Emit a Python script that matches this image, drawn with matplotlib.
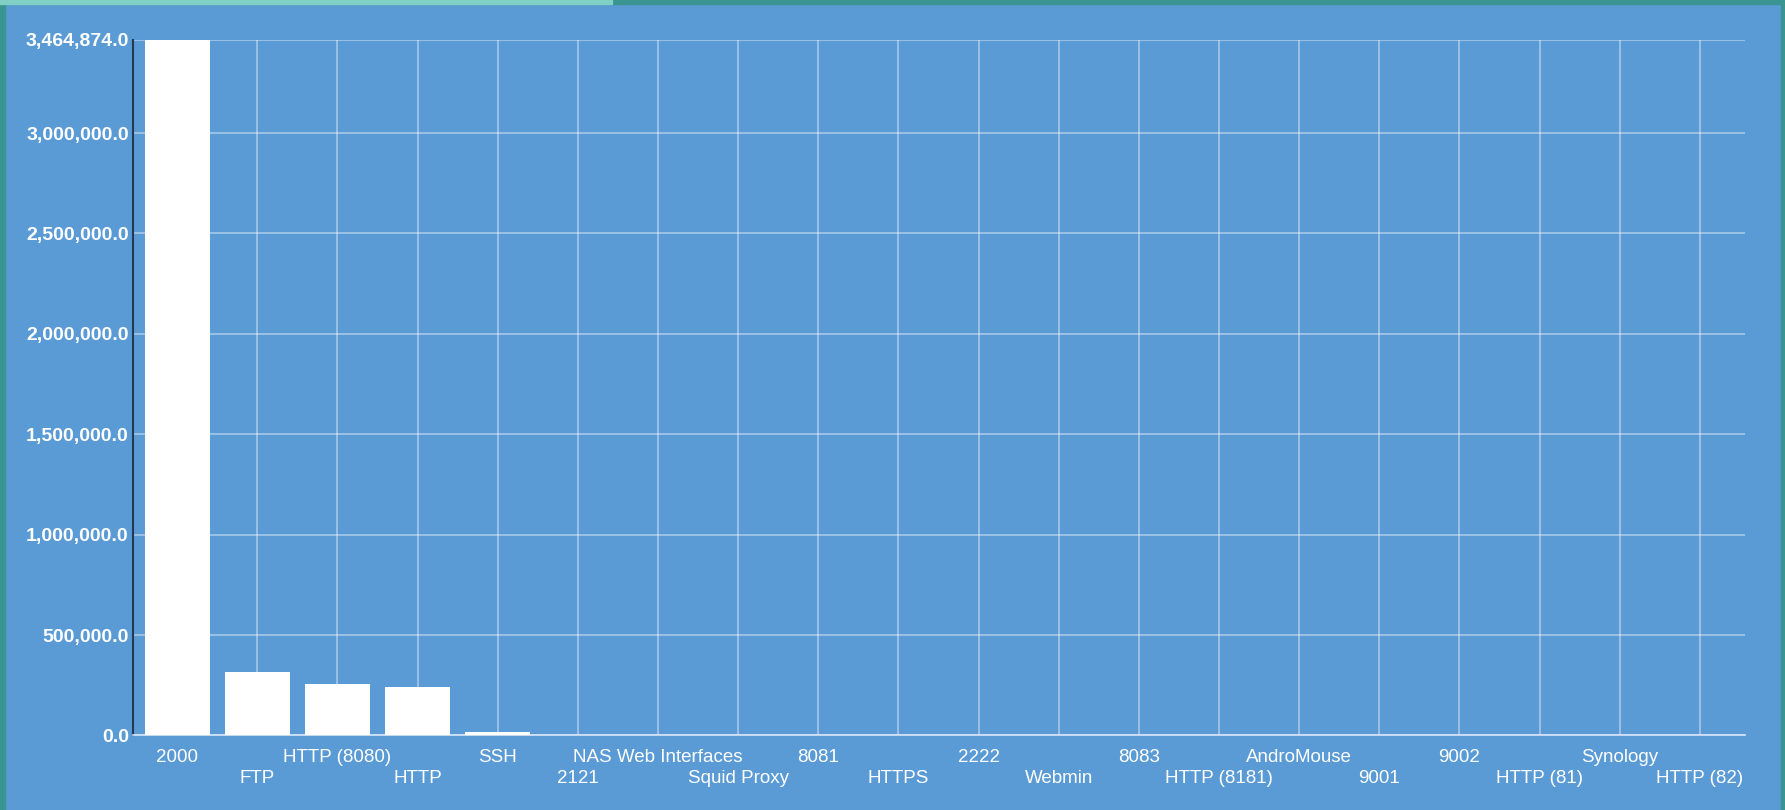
import matplotlib.pyplot as plt
from matplotlib.patches import Rectangle

categories = ['2000', 'FTP', 'HTTP (8080)', 'HTTP', 'SSH', '2121', 'NAS Web Interfaces',
              'Squid Proxy', '8081', 'HTTPS', '2222', 'Webmin', '8083', 'HTTP (8181)',
              'AndroMouse', '9001', '9002', 'HTTP (81)', 'Synology', 'HTTP (82)']
values = [3464874, 314000, 256000, 239000, 19000, 3500, 1500, 900, 700, 500,
          400, 300, 250, 200, 150, 120, 100, 80, 60, 50]
yticks = [0, 500000, 1000000, 1500000, 2000000, 2500000, 3000000, 3464874]

bg = '#5a9bd6'
plt.rcParams['font.family'] = ['Liberation Sans', 'DejaVu Sans']

fig = plt.figure(figsize=(17.85, 8.10), dpi=100, facecolor=bg)
# border strips
fig.patches.append(Rectangle((0, 0), 0.003, 1, transform=fig.transFigure, color='#3a9590', zorder=0))
fig.patches.append(Rectangle((0.998, 0), 0.002, 1, transform=fig.transFigure, color='#3a9590', zorder=0))
fig.patches.append(Rectangle((0, 0.995), 1, 0.005, transform=fig.transFigure, color='#3a9590', zorder=0))
fig.patches.append(Rectangle((0, 0.995), 0.343, 0.005, transform=fig.transFigure, color='#80d0c6', zorder=0))

ax = fig.add_axes([0.0745, 0.092, 0.903, 0.859])
ax.set_facecolor(bg)
x = list(range(len(categories)))
ax.bar(x, values, width=0.81, color='white', zorder=3)

ax.set_xlim(-0.55, 19.56)
ax.set_ylim(0, 3464874)
ax.set_yticks(yticks)
ax.set_yticklabels(['{:,.1f}'.format(v) for v in yticks])

# alternate rows: even categories on major ticks, odd ones on minor ticks
ax.set_xticks(x[0::2])
ax.set_xticklabels(categories[0::2])
ax.set_xticks(x[1::2], minor=True)
ax.set_xticklabels(categories[1::2], minor=True)

ax.grid(True, which='both', axis='x', color='white', alpha=0.45, linewidth=1.2, zorder=1)
ax.grid(True, axis='y', color='white', alpha=0.45, linewidth=1.2, zorder=1)
ax.tick_params(which='both', length=0, colors='white', labelsize=13.5)
ax.tick_params(axis='y', pad=3, labelsize=14)
ax.tick_params(axis='x', which='major', pad=9.5)
ax.tick_params(axis='x', which='minor', pad=24.5)
for t in ax.get_yticklabels():
    t.set_fontweight('bold')

for s in ['top', 'right']:
    ax.spines[s].set_visible(False)
ax.spines['left'].set_color('#243a52')
ax.spines['left'].set_linewidth(1.5)
ax.spines['bottom'].set_color('#d8e6f5')
ax.spines['bottom'].set_linewidth(1.2)

fig.savefig('out.png', dpi=100, facecolor=bg)
